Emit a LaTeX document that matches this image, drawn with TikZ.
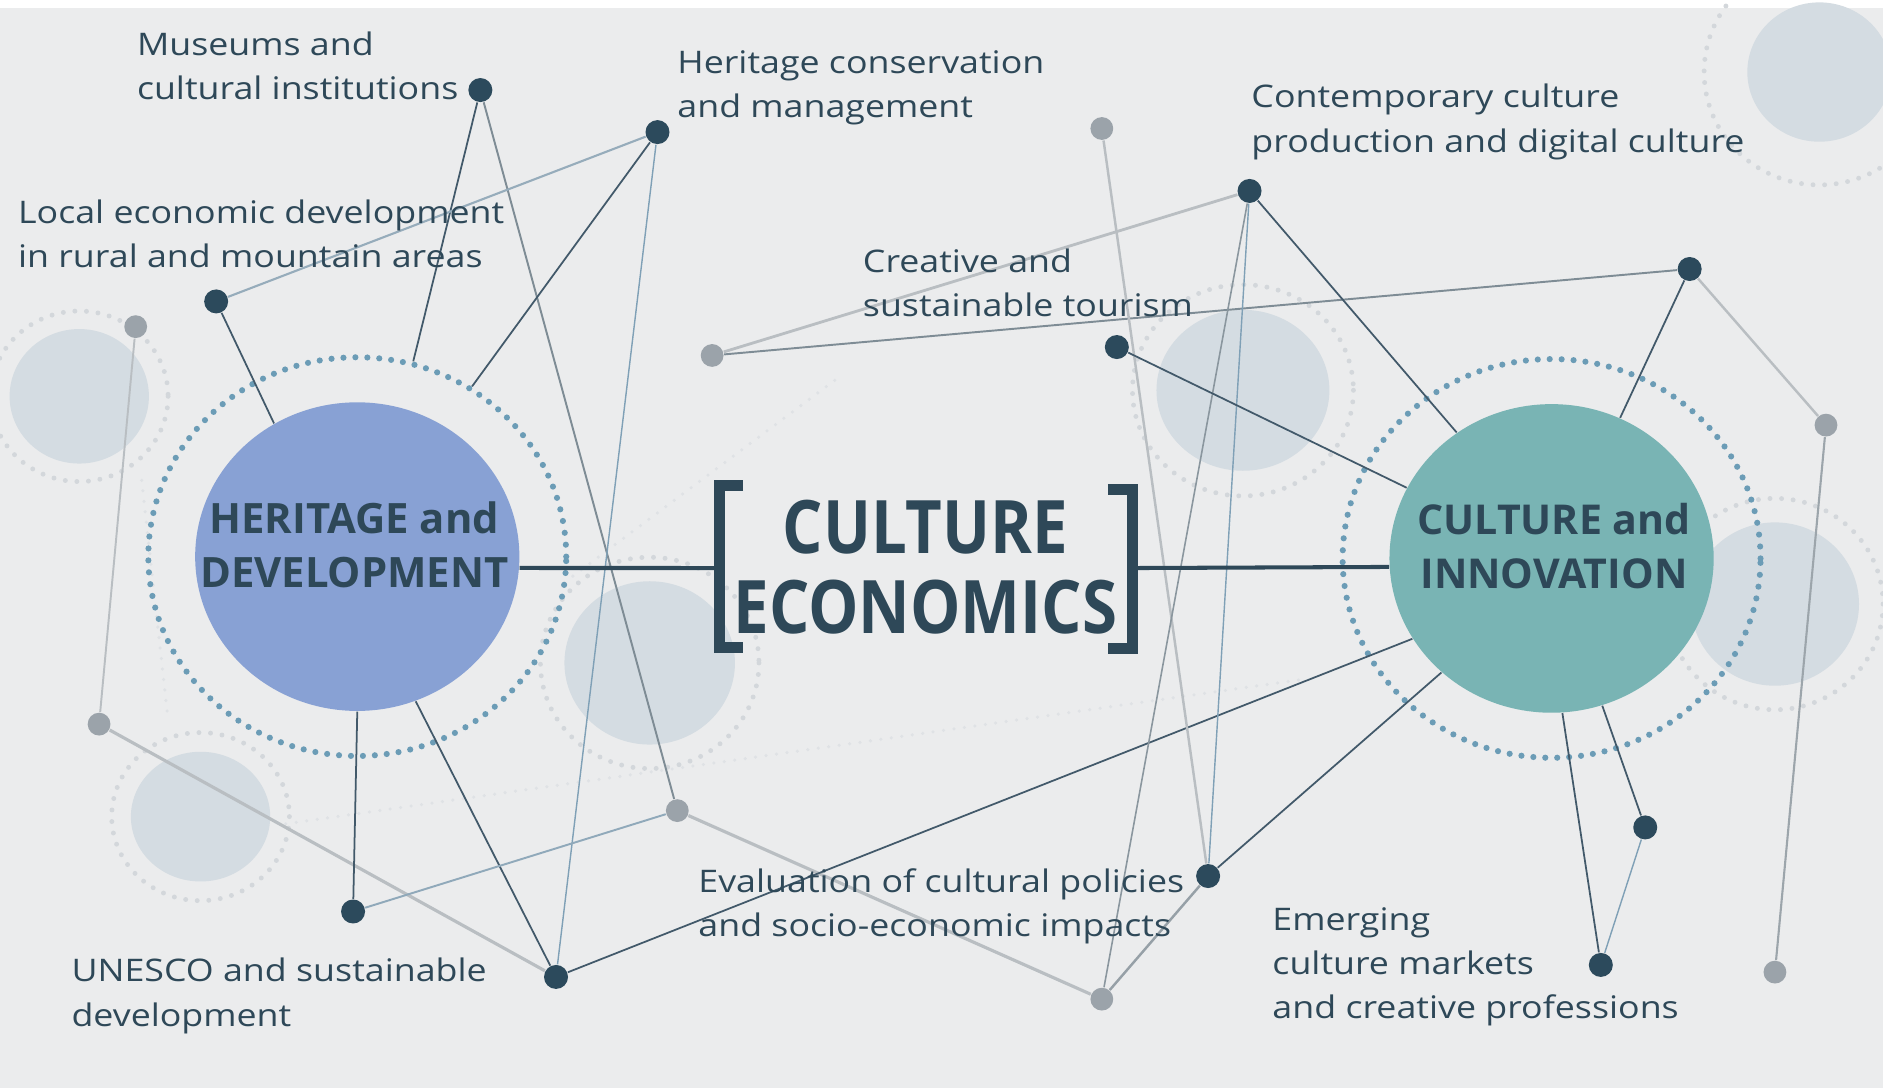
\documentclass[tikz,border=0pt]{standalone}
\usepackage{fontspec}
\setmainfont{Open Sans}
\newfontfamily\lblfont[FakeStretch=1.15]{Open Sans}
\newfontfamily\ttlfont[FakeStretch=0.86]{Open Sans}
\usetikzlibrary{shapes.geometric}
\definecolor{bgc}{HTML}{EBECED}
\definecolor{txtc}{HTML}{2E4858}
\definecolor{dotc}{HTML}{2C4A5C}
\definecolor{gdotc}{HTML}{9BA3AA}
\definecolor{herc}{HTML}{88A1D4}
\definecolor{innc}{HTML}{79B4B4}
\definecolor{ringc}{HTML}{6B9CB6}
\definecolor{decofill}{HTML}{D4DCE2}
\definecolor{decoringc}{HTML}{D3D7DB}
\definecolor{faintc}{HTML}{DFE2E5}
\definecolor{darkln}{HTML}{42596A}
\definecolor{lightln}{HTML}{B9BEC2}
\definecolor{blueln}{HTML}{7FA0B6}
\definecolor{midln}{HTML}{7E8C95}
\begin{document}
\begin{tikzpicture}[x=0.012009cm,y=-0.012009cm,
  dkdot/.style={circle,fill=dotc,minimum size=0.24cm,inner sep=0pt},
  gydot/.style={circle,fill=gdotc,minimum size=0.228cm,inner sep=0pt},
  lbl/.style={anchor=west,align=left,inner sep=0pt,text=txtc,font=\lblfont\fontsize{8.85pt}{12.63pt}\selectfont},
  hub/.style={ellipse,inner sep=0pt,minimum width=3.242cm,minimum height=3.086cm},
  hubring/.style={ellipse,inner sep=0pt,minimum width=4.179cm,minimum height=3.987cm,draw=ringc,line width=1.75pt,dash pattern=on 0pt off 3.4pt,line cap=round},
  hubtxt/.style={align=center,inner sep=0pt,text=txtc,font=\bfseries\fontsize{11.9pt}{15.4pt}\selectfont},
  ttl/.style={align=center,inner sep=0pt,text=txtc,font=\ttlfont\bfseries\fontsize{21pt}{22.8pt}\selectfont},
  deco/.style={fill=decofill},
  decoring/.style={draw=decoringc,line width=1.4pt,dash pattern=on 0pt off 3.3pt,line cap=round},
  faint/.style={draw=faintc,line width=1pt,dash pattern=on 0pt off 3pt,line cap=round},
  dkln/.style={draw=darkln,line width=0.5pt},
  ltln/.style={draw=lightln,line width=0.7pt},
  blln/.style={draw=blueln,line width=0.4pt},
  mdln/.style={draw=midln,line width=0.55pt},
  mainln/.style={draw=txtc,line width=1.15pt},
  brk/.style={draw=txtc,line width=3.1pt,line join=miter}
]
\useasboundingbox (0,0) rectangle (1568,906);
\clip (0,0) rectangle (1568,906);
\fill[bgc] (0,0) rectangle (1568,906);
\fill[white] (0,0) rectangle (1568,7);

% decorative background circles
\fill[deco] (66,330) ellipse [x radius=58, y radius=56];
\draw[decoring] (66,330) ellipse [x radius=74, y radius=71];
\fill[deco] (1515,60) ellipse [x radius=60, y radius=58];
\draw[decoring] (1515,60) ellipse [x radius=96, y radius=94];
\fill[deco] (1035,325) ellipse [x radius=72, y radius=67];
\draw[decoring] (1035,325) ellipse [x radius=92, y radius=88];
\fill[deco] (541,552) ellipse [x radius=71, y radius=68];
\draw[decoring] (541,552) ellipse [x radius=91, y radius=88];
\fill[deco] (167,680) ellipse [x radius=58, y radius=54];
\draw[decoring] (167,680) ellipse [x radius=74, y radius=70];
\fill[deco] (1478,503) ellipse [x radius=70, y radius=68];
\draw[decoring] (1478,503) ellipse [x radius=90, y radius=88];

% faint dotted background lines
\draw[faint] (238,686) -- (1083,566);
\draw[faint] (470,485) -- (700,313);
\draw[faint] (118,400) -- (140,600);

% dots
\node[dkdot] (dM) at (400,75) {};
\node[dkdot] (dH) at (547.5,110) {};
\node[dkdot] (dL) at (180,251) {};
\node[dkdot] (dU) at (294,759) {};
\node[dkdot] (dB) at (463,813.5) {};
\node[dkdot] (dC) at (1040.5,159) {};
\node[dkdot] (dT) at (930,289) {};
\node[dkdot] (dR) at (1407,224) {};
\node[dkdot] (dE) at (1006,729.5) {};
\node[dkdot] (dK1) at (1370,689) {};
\node[dkdot] (dK2) at (1333,803.5) {};
\node[gydot] (g1) at (917.5,107) {};
\node[gydot] (g2) at (113,272) {};
\node[gydot] (g3) at (593,296) {};
\node[gydot] (g4) at (82.5,603) {};
\node[gydot] (g5) at (564,675) {};
\node[gydot] (g6) at (917.5,832) {};
\node[gydot] (g7) at (1520.5,354) {};
\node[gydot] (g8) at (1478,809.5) {};

% hubs and their dotted rings
\node[hub,fill=herc] (hd) at (297.5,463.5) {};
\node[hubring] (hr) at (297.5,463.5) {};
\node[hub,fill=innc] (ci) at (1292,465) {};
\node[hubring] (cr) at (1292,465) {};

% connectors
\draw[dkln] (dM) -- (hr.74);
\draw[mdln] (dM) -- (g5);
\draw[ltln,draw=blueln!60!lightln,line width=0.6pt] (dH) -- (dL);
\draw[dkln] (dH) -- (hr.56);
\draw[blln] (dH) -- (dB);
\draw[dkln] (dL) -- (hd.122);
\draw[ltln,line width=0.55pt] (g2) -- (g4);
\draw[ltln,line width=0.9pt] (g4) -- (dB);
\draw[dkln] (hd.270) -- (dU);
\draw[dkln] (hd.292) -- (dB);
\draw[blln,draw=blueln!70!lightln,line width=0.55pt] (dU) -- (g5);
\draw[ltln,line width=0.9pt] (g5) -- (g6);
\draw[dkln] (dB) -- (ci.210);
\draw[ltln,line width=0.8pt] (g3) -- (dC);
\draw[mdln] (g3) -- (dR);
\draw[ltln] (g1) -- (dE);
\draw[blln] (dC) -- (dE);
\draw[mdln,draw=midln!80!lightln,line width=0.45pt] (dC) -- (g6);
\draw[dkln] (dC) -- (ci.127.5);
\draw[dkln] (dT) -- (ci.154.6);
\draw[dkln] (dE) -- (ci.226.5);
\draw[mdln,draw=midln!60!lightln,line width=0.7pt] (dE) -- (g6);
\draw[dkln] (dR) -- (ci.64);
\draw[ltln] (dR) -- (g7);
\draw[mdln,draw=midln!50!lightln,line width=0.6pt] (g7) -- (g8);
\draw[dkln] (ci.274.5) -- (dK2);
\draw[dkln] (ci.289) -- (dK1);
\draw[blln] (dK1) -- (dK2);

% main connectors and brackets
\coordinate (lbk) at (595,473);
\coordinate (rbk) at (947,473);
\draw[mainln] (hd.-4) -- (lbk);
\draw[mainln] (rbk) -- (ci.183.5);
\draw[brk] (618.7,404.5) -- (599.2,404.5) -- (599.2,539) -- (618.7,539);
\draw[brk] (922.6,407.5) -- (943.4,407.5) -- (943.4,540) -- (922.6,540);

% texts
\node[hubtxt] (hdt) at (295,453.5) {HERITAGE and\\DEVELOPMENT};
\node[hubtxt,font=\bfseries\fontsize{11.7pt}{15.4pt}\selectfont] (cit) at (1294,455) {CULTURE and\\INNOVATION};
\node[ttl] (ce) at (770.5,472.5) {CULTURE\\ECONOMICS};

\node[lbl] (tM) at (113.5,57) {\strut Museums and\\\strut cultural institutions};
\node[lbl] (tH) at (563.5,72) {\strut Heritage conservation\\\strut and management};
\node[lbl] (tL) at (14.5,197) {\strut Local economic development\\\strut in rural and mountain areas};
\node[lbl] (tT) at (718,238) {\strut Creative and\\\strut sustainable tourism};
\node[lbl] (tC) at (1041.5,101) {\strut Contemporary culture\\\strut production and digital culture};
\node[lbl] (tE) at (581,754) {\strut Evaluation of cultural policies\\\strut and socio-economic impacts};
\node[lbl] (tU) at (59,828.5) {\strut UNESCO and sustainable\\\strut development};
\node[lbl] (tK) at (1059,804) {\strut Emerging\\\strut culture markets\\\strut and creative professions};
\end{tikzpicture}
\end{document}
